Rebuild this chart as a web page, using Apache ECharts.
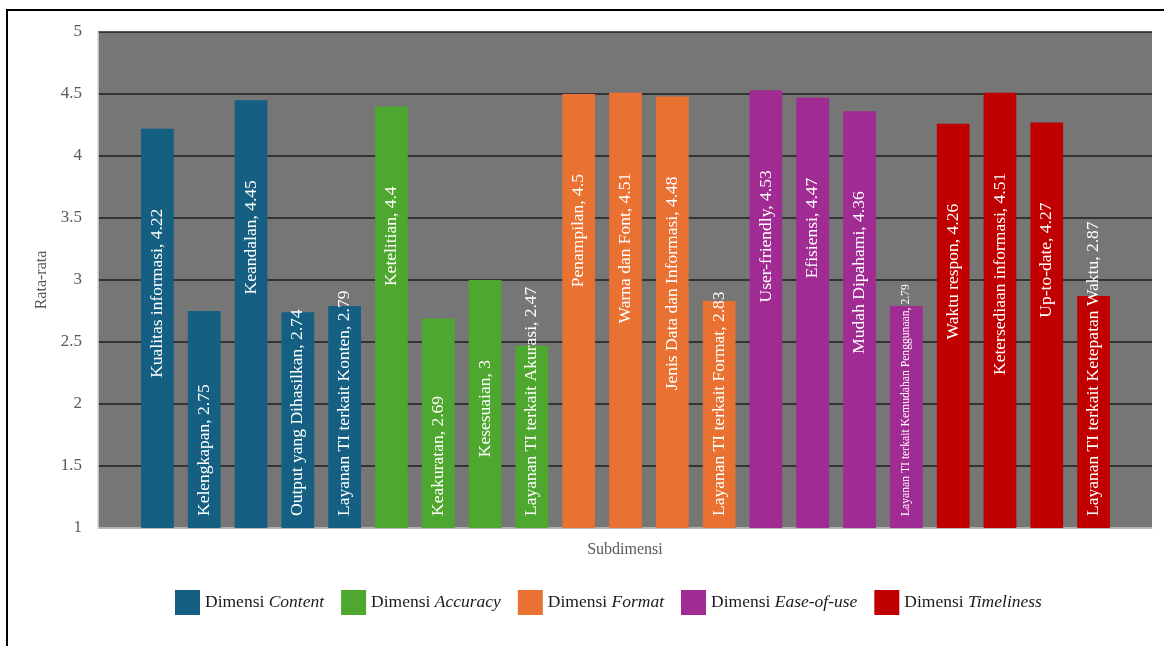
<!DOCTYPE html>
<html>
<head>
<meta charset="utf-8">
<script src="https://cdn.jsdelivr.net/npm/echarts@6/dist/echarts.min.js"></script>
<style>html,body{margin:0;padding:0;background:#fff;}#c{width:1164px;height:646px;}</style>
</head>
<body>
<div id="c"></div>
<script>
// ---- data ----
const dimensions = ['Content', 'Accuracy', 'Format', 'Ease-of-use', 'Timeliness'];
const contentNames = ['Kualitas informasi', 'Kelengkapan', 'Keandalan', 'Output yang Dihasilkan', 'Layanan TI terkait Konten'];
const contentValues = [4.22, 2.75, 4.45, 2.74, 2.79];
const accuracyNames = ['Ketelitian', 'Keakuratan', 'Kesesuaian', 'Layanan TI terkait Akurasi'];
const accuracyValues = [4.4, 2.69, 3, 2.47];
const formatNames = ['Penampilan', 'Warna dan Font', 'Jenis Data dan Informasi', 'Layanan TI terkait Format'];
const formatValues = [4.5, 4.51, 4.48, 2.83];
const easeNames = ['User-friendly', 'Efisiensi', 'Mudah Dipahami', 'Layanan TI terkait Kemudahan Penggunaan'];
const easeValues = [4.53, 4.47, 4.36, 2.79];
const timeNames = ['Waktu respon', 'Ketersediaan informasi', 'Up-to-date', 'Layanan TI terkait Ketepatan Waktu'];
const timeValues = [4.26, 4.51, 4.27, 2.87];
const yTicks = [1, 1.5, 2, 2.5, 3, 3.5, 4, 4.5, 5];

// ---- styling / layout ----
const colors = ['#156082', '#4EA72E', '#E97132', '#A02B93', '#C00000'];
const groups = [
  [contentNames, contentValues],
  [accuracyNames, accuracyValues],
  [formatNames, formatValues],
  [easeNames, easeValues],
  [timeNames, timeValues]
];
const categories = [].concat(...groups.map(g => g[0]));
const FONT = '"Liberation Serif", "DejaVu Serif", serif';
const LABEL_SIZE = 17.5;
const GRID_TOP = 32, GRID_BOTTOM = 118, H = 646;
const plotH = H - GRID_TOP - GRID_BOTTOM;
const yMin = yTicks[0], yMax = yTicks[yTicks.length - 1];
const ctx = document.createElement('canvas').getContext('2d');
function textLen(t, size) { ctx.font = size + 'px ' + FONT; return ctx.measureText(t).width; }

function labelFor(name, v) {
  const txt = name + ', ' + v;
  let size = LABEL_SIZE;
  let len = textLen(txt, size);
  if (len > 300) { size = size * 232 / len; len = textLen(txt, size); }
  const barTop = GRID_TOP + (yMax - v) / (yMax - yMin) * plotH;
  const barBottom = GRID_TOP + plotH;
  const fitsTop = barTop + 80 + len <= barBottom - 15;
  return fitsTop
    ? { position: 'insideTop', distance: 80, align: 'right', fontSize: size }
    : { position: 'insideBottom', distance: 12, align: 'left', fontSize: size };
}

let offset = 0;
const series = groups.map((g, gi) => {
  const data = categories.map(() => null);
  g[1].forEach((v, i) => {
    data[offset + i] = { value: v, label: labelFor(g[0][i], v) };
  });
  offset += g[1].length;
  return {
    name: 'Dimensi ' + dimensions[gi],
    type: 'bar',
    xAxisIndex: 1,
    yAxisIndex: 1,
    barWidth: '70%',
    barGap: '-100%',
    itemStyle: { color: colors[gi] },
    label: {
      show: true,
      rotate: 90,
      verticalAlign: 'middle',
      color: '#ffffff',
      fontFamily: FONT,
      fontSize: LABEL_SIZE,
      formatter: p => p.name + ', ' + p.value
    },
    data: data
  };
});

const chart = echarts.init(document.getElementById('c'), null, { renderer: 'canvas' });
chart.setOption({
  animation: false,
  backgroundColor: '#ffffff',
  graphic: [{
    type: 'rect', z: 100, silent: true,
    shape: { x: 7, y: 10, width: 1300, height: 800 },
    style: { fill: 'none', stroke: '#000000', lineWidth: 2 }
  }],
  grid: [
    { left: 98, right: 12, top: GRID_TOP, bottom: GRID_BOTTOM, show: true, backgroundColor: '#767676', borderWidth: 0 },
    { left: 134, right: 47, top: GRID_TOP, bottom: GRID_BOTTOM }
  ],
  xAxis: [
    {
      gridIndex: 0, type: 'value', min: 0, max: 1,
      name: 'Subdimensi', nameLocation: 'middle', nameGap: 14,
      nameTextStyle: { color: '#595959', fontFamily: FONT, fontSize: 16 },
      axisLine: { show: true, lineStyle: { color: '#d9d9d9', width: 1.5 } },
      axisTick: { show: false }, axisLabel: { show: false }, splitLine: { show: false }
    },
    {
      gridIndex: 1, type: 'category', data: categories,
      axisLine: { show: false }, axisTick: { show: false }, axisLabel: { show: false }, splitLine: { show: false }
    }
  ],
  yAxis: [
    {
      gridIndex: 0, type: 'value', min: yMin, max: yMax, interval: 0.5,
      name: 'Rata-rata', nameLocation: 'middle', nameGap: 40,
      nameTextStyle: { color: '#595959', fontFamily: FONT, fontSize: 16 },
      axisLine: { show: true, lineStyle: { color: '#d9d9d9', width: 1.5 } },
      axisTick: { show: false },
      axisLabel: { color: '#595959', fontFamily: FONT, fontSize: 17, margin: 16,
        formatter: v => (yTicks.includes(v) ? String(v) : '') },
      splitLine: { show: true, lineStyle: { color: '#1e1e1e', width: 1.5 } }
    },
    {
      gridIndex: 1, type: 'value', min: yMin, max: yMax, show: false, splitLine: { show: false }
    }
  ],
  legend: {
    top: 590, left: 175, padding: 0,
    itemWidth: 25, itemHeight: 25, itemGap: 17,
    icon: 'rect',
    textStyle: {
      color: '#1a1a1a', fontFamily: FONT, fontSize: 17.5,
      rich: { i: { fontStyle: 'italic', color: '#1a1a1a', fontFamily: FONT, fontSize: 17.5 } }
    },
    formatter: n => 'Dimensi {i|' + n.replace('Dimensi ', '') + '}',
    data: series.map(s => s.name)
  },
  series: series
});
</script>
</body>
</html>
